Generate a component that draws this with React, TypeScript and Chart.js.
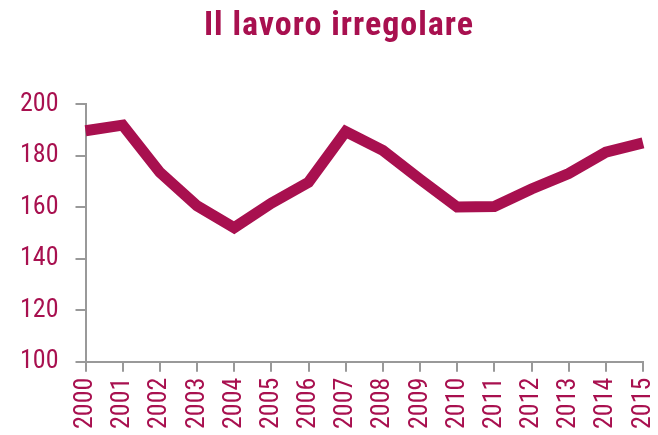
import React, { useEffect, useRef } from "react";
import { Chart, registerables } from "chart.js";

Chart.register(...registerables);

const years = ["2000","2001","2002","2003","2004","2005","2006","2007","2008","2009","2010","2011","2012","2013","2014","2015"];
const values = [189.6, 191.8, 173.5, 160.5, 152, 161.5, 169.6, 189.3, 182, 170.8, 160, 160.2, 167, 173, 181.3, 184.9];
const titleText = "Il lavoro irregolare";

const MAIN = "#A8104F";
const AXIS = "#999999";
const FONT = "'Roboto Condensed', 'Liberation Sans', sans-serif";

const titlePlugin = {
  id: "customTitle",
  afterDraw(chart: any) {
    const ctx = chart.ctx;
    ctx.save();
    ctx.fillStyle = MAIN;
    ctx.font = `bold 34px ${FONT}`;
    try { (ctx as any).letterSpacing = "1px"; } catch (e) {}
    ctx.textAlign = "center";
    ctx.textBaseline = "alphabetic";
    ctx.fillText(titleText, chart.width / 2 + 10, 35);
    ctx.restore();
  },
};

export default function App() {
  const ref = useRef<HTMLCanvasElement>(null);
  useEffect(() => {
    document.body.style.margin = "0";
    const chart = new Chart(ref.current!, {
      type: "line",
      data: {
        labels: years,
        datasets: [
          {
            data: values,
            borderColor: MAIN,
            backgroundColor: MAIN,
            borderWidth: 11,
            pointRadius: 0,
            tension: 0,
            borderJoinStyle: "miter",
            borderCapStyle: "butt",
            fill: false,
          },
        ],
      },
      options: {
        animation: false,
        responsive: true,
        maintainAspectRatio: false,
        layout: { padding: { top: 104, left: 3, right: 15, bottom: 0 } },
        plugins: { legend: { display: false }, title: { display: false }, tooltip: { enabled: false } },
        scales: {
          x: {
            offset: false,
            grid: { drawOnChartArea: false, drawTicks: true, tickLength: 10, color: AXIS, lineWidth: 2 },
            border: { color: AXIS, width: 2 },
            ticks: { color: MAIN, font: { family: FONT, size: 26 }, maxRotation: 90, minRotation: 90, padding: 6, autoSkip: false },
            afterFit(scale: any) {
              scale.paddingLeft = 0;
              scale.paddingRight = 0;
            },
          },
          y: {
            min: 100,
            max: 200,
            grid: { drawOnChartArea: false, drawTicks: true, tickLength: 10, color: AXIS, lineWidth: 2 },
            border: { color: AXIS, width: 2 },
            ticks: { color: MAIN, font: { family: FONT, size: 26 }, stepSize: 20, padding: 17 },
            afterFit(scale: any) {
              scale.paddingTop = 0;
              scale.paddingBottom = 0;
            },
          },
        },
      },
      plugins: [titlePlugin],
    });
    return () => chart.destroy();
  }, []);
  return (
    <div style={{ position: "relative", width: 658, height: 435 }}>
      <canvas ref={ref} />
    </div>
  );
}
